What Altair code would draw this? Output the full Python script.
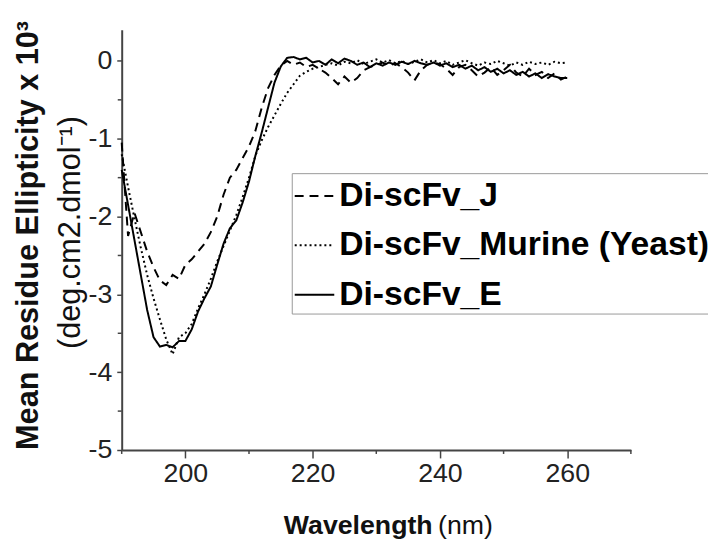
import altair as alt
import pandas as pd

wavelength = list(range(190, 261))

di_e = [
    -1.40, -1.85, -2.30, -2.75, -3.20, -3.55, -3.67, -3.65, -3.68, -3.60,
    -3.60, -3.45, -3.22, -3.05, -2.90, -2.62, -2.35, -2.15, -2.05, -1.82,
    -1.55, -1.22, -0.92, -0.60, -0.28, -0.07, 0.04, 0.05, 0.02, 0.04,
    -0.02, 0.00, -0.05, 0.02, -0.03, 0.03, 0.00, -0.05, -0.02, -0.08,
    -0.03, -0.06, -0.02, -0.05, -0.01, -0.04, 0.00, -0.03, -0.05, -0.02,
    -0.06, -0.03, -0.08, -0.05, -0.10, -0.06, -0.12, -0.08, -0.14, -0.10,
    -0.16, -0.12, -0.18, -0.14, -0.20, -0.16, -0.22, -0.17, -0.20, -0.22,
    -0.22,
]

di_murine = [
    -1.20, -1.62, -2.02, -2.40, -2.75, -3.05, -3.32, -3.58, -3.77, -3.55,
    -3.50, -3.38, -3.18, -3.00, -2.80, -2.58, -2.38, -2.18, -1.98, -1.75,
    -1.50, -1.22, -1.02, -0.85, -0.70, -0.55, -0.41, -0.30, -0.19, -0.14,
    -0.10, -0.08, -0.05, -0.03, -0.06, -0.01, -0.03, 0.01, -0.04, -0.01,
    0.02, -0.02, 0.01, -0.03, 0.00, -0.04, -0.01, 0.02, -0.02, 0.01,
    -0.03, 0.00, -0.05, -0.02, 0.01, -0.03, -0.06, -0.02, -0.04, 0.00,
    -0.03, -0.06, -0.02, -0.05, -0.01, -0.04, -0.02, -0.05, -0.01, -0.03,
    -0.02,
]

di_j = [
    -1.05, -2.25, -1.95, -2.20, -2.45, -2.65, -2.82, -2.88, -2.75, -2.80,
    -2.62, -2.55, -2.45, -2.35, -2.20, -2.00, -1.72, -1.50, -1.40, -1.25,
    -1.10, -0.90, -0.60, -0.35, -0.18, -0.06, 0.00, -0.05, -0.02, -0.08,
    -0.05, -0.10, -0.15, -0.22, -0.30, -0.20, -0.28, -0.22, -0.12, -0.08,
    -0.05, -0.02, -0.06, -0.03, -0.08, -0.15, -0.25, -0.12, -0.05, -0.02,
    -0.04, -0.10, -0.18, -0.08, -0.05, -0.12, -0.20, -0.15, -0.08, -0.18,
    -0.12, -0.05, -0.15, -0.20, -0.10, -0.18, -0.14, -0.22, -0.16, -0.24,
    -0.20,
]

series_names = ["Di-scFv_J", "Di-scFv_Murine (Yeast)", "Di-scFv_E"]
dash_styles = [[9, 6], [2, 3], [1, 0]]

x_major = [200, 220, 240, 260]
x_minor = [190, 210, 230, 250, 270]
y_major = [-5, -4, -3, -2, -1, 0]
y_minor = [-4.5, -3.5, -2.5, -1.5, -0.5]

y_title_1 = ["Mean Residue Ellipticity x 10\u00b3"]
y_title_2 = ["(deg.cm2.dmol\u207b\u00b9)"]
x_title_1 = ["Wavelength"]
x_title_2 = ["(nm)"]

rows = []
for name, vals in zip(series_names, [di_j, di_murine, di_e]):
    for w, v in zip(wavelength, vals):
        rows.append({"wl": w, "val": v, "series": name})
df = pd.DataFrame(rows)

W, H = 515, 425
FONT = "Liberation Sans"
AX = "#444444"

xs = alt.Scale(domain=[190, 270], nice=False, zero=False)
ys = alt.Scale(domain=[-5, 0.4], nice=False, zero=False)

ax_x = alt.Axis(
    values=x_major, title=None, grid=False, domainColor=AX, domainWidth=2,
    tickColor=AX, tickWidth=1.5, tickSize=8, labelFont=FONT, labelFontSize=27,
    labelColor="#222222", labelPadding=3, labelExpr="'' + datum.value")
ax_y = alt.Axis(
    values=y_major, title=None, grid=False, domainColor=AX, domainWidth=2,
    tickColor=AX, tickWidth=1.5, tickSize=5, labelFont=FONT, labelFontSize=27,
    labelColor="#222222", labelPadding=5, labelExpr="'' + datum.value")

lines = alt.Chart(df).mark_line(color="black", strokeWidth=2).encode(
    x=alt.X("wl:Q", scale=xs, axis=ax_x),
    y=alt.Y("val:Q", scale=ys, axis=ax_y),
    strokeDash=alt.StrokeDash("series:N", scale=alt.Scale(domain=series_names, range=dash_styles),
        legend=alt.Legend(orient="none", legendX=172, legendY=145, title=None,
                          symbolType="stroke", symbolSize=1600, symbolStrokeWidth=2,
                          symbolStrokeColor="black", labelFont=FONT, labelFontSize=34,
                          labelFontWeight="bold", labelColor="black", labelLimit=600,
                          strokeColor="#999999", fillColor="white", padding=2,
                          rowPadding=12, labelOffset=4)),
    order="wl:Q",
)

xminor = alt.Chart(pd.DataFrame({"wl": x_minor})).mark_rule(color=AX, strokeWidth=1.5).encode(
    x=alt.X("wl:Q", scale=xs, axis=ax_x), y=alt.value(H), y2=alt.value(H + 4))

yminor = alt.Chart(pd.DataFrame({"val": y_minor})).mark_rule(color=AX, strokeWidth=1.5).encode(
    y=alt.Y("val:Q", scale=ys, axis=ax_y), x=alt.value(-4), x2=alt.value(0))

def text_layer(txt, x, y, size, weight, angle=0, align="center", baseline="middle"):
    kw = dict(font=FONT, fontSize=size, fontWeight=weight, color="#111111",
              align=align, baseline=baseline)
    if angle:
        kw["angle"] = angle
    return alt.Chart(pd.DataFrame({"t": txt})).mark_text(**kw).encode(
        text="t:N", x=alt.value(x), y=alt.value(y))

t1 = text_layer(y_title_1, -94, 208, 31, "bold", angle=270)
t2 = text_layer(y_title_2, -51, 205, 31, "normal", angle=270)
t3 = text_layer(x_title_1, 164, 510, 27, "bold", align="left", baseline="alphabetic")
t4 = text_layer(x_title_2, 320, 510, 27, "normal", align="left", baseline="alphabetic")

chart = alt.layer(lines, xminor, yminor, t1, t2, t3, t4).properties(
    width=W, height=H,
    autosize=alt.AutoSizeParams(type="none"),
    padding={"left": 115, "top": 19, "right": 78, "bottom": 91},
).configure(font=FONT).configure_view(stroke=None)

chart.save("out.html", embed_options={"renderer": "svg", "actions": False})
